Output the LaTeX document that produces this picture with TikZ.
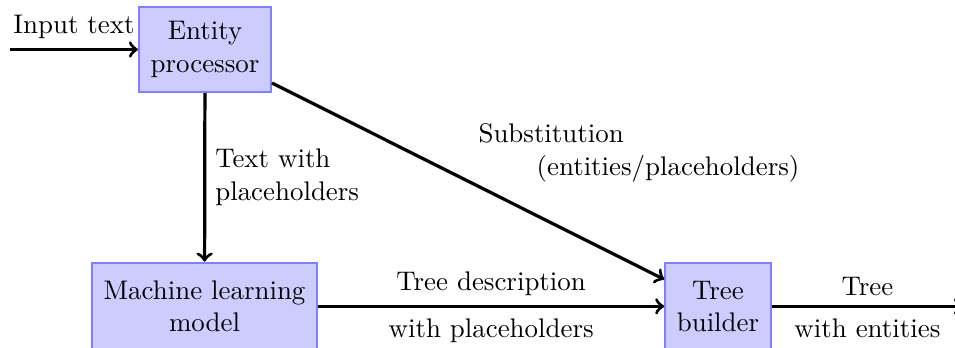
\documentclass[tikz,border=0pt]{standalone}
\begin{document}
\begin{tikzpicture}[x=0.3717pt,y=-0.3717pt,
  block/.style={draw=blue!50, fill=blue!20, thick, align=center,
    inner xsep=4.3pt, minimum height=31.6pt},
  flow/.style={->, line width=1.2pt},
  lbl/.style={align=center}]
\useasboundingbox (0,0) rectangle (955,347);
\node[block] (ep) at (205,49.5) {Entity\\processor};
\node[block, minimum height=32.4pt] (ml) at (204.5,306.3) {Machine learning\\model};
\node[block, minimum height=32.4pt] (tb) at (718,306.3) {Tree\\builder};
\coordinate (in) at (10,49.5);
\coordinate (out) at (963,306.3);
\draw[flow] (in) -- node[above] {Input text} (ep);
\draw[flow] (ep) -- node[midway, right, align=left] {Text with\\placeholders} (ml);
\draw[flow] (ep) -- (tb);
\node[anchor=north west, inner sep=0pt, align=left] (sub) at (478,123.3)
  {Substitution\\\hspace{21.6pt}(entities/placeholders)};
\draw[flow] (ml) -- node[above] {Tree description}
  node[below, yshift=-0.8pt] {with placeholders} (tb);
\draw[flow] (tb) -- node[above] {Tree}
  node[below, yshift=-0.8pt] {with entities} (out);
\end{tikzpicture}
\end{document}
